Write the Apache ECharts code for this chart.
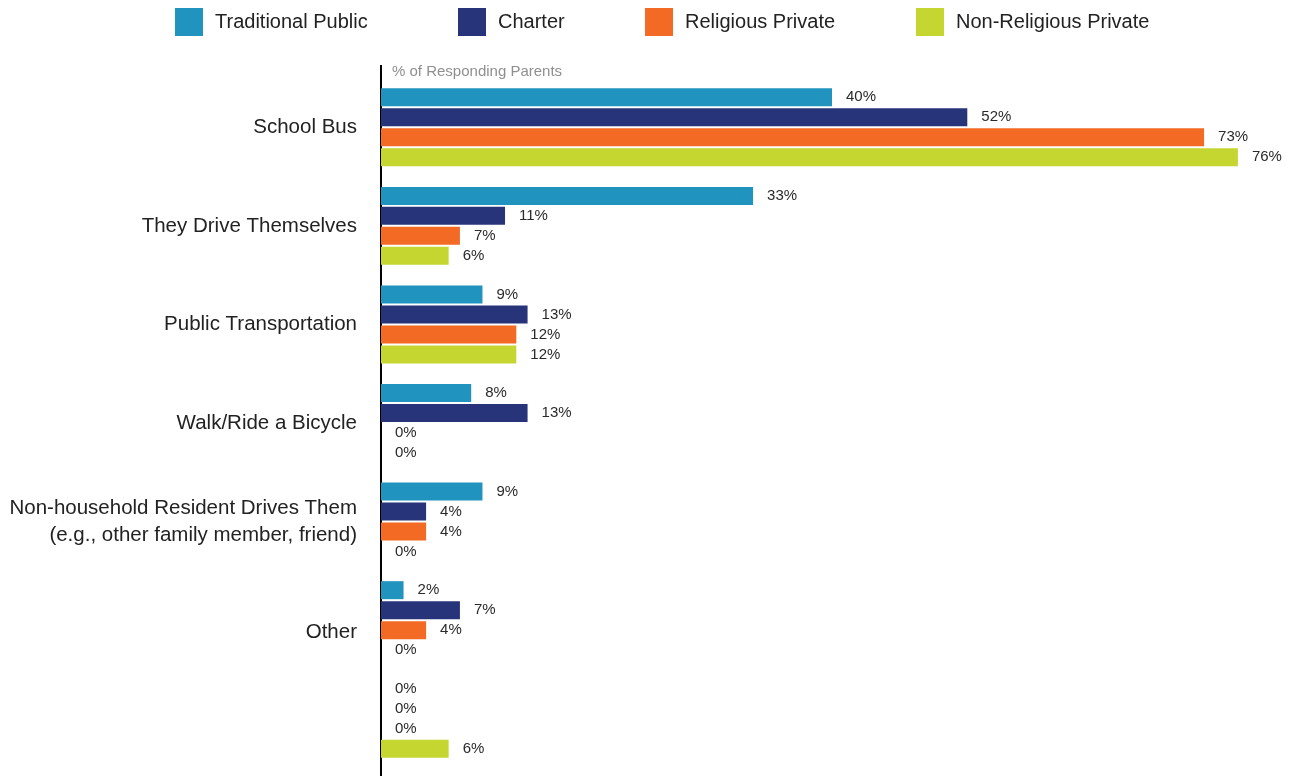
<!DOCTYPE html>
<html>
<head>
<meta charset="utf-8">
<title>How Students Get to School</title>
<script src="https://cdn.jsdelivr.net/npm/echarts@6/dist/echarts.min.js"></script>
<style>
  html, body { margin: 0; padding: 0; background: #ffffff; }
  #chart { width: 1296px; height: 776px; }
</style>
</head>
<body>
<div id="chart"></div>
<script>
// Categories (top to bottom); the last group carries no label
const categories = [
  'School Bus',
  'They Drive Themselves',
  'Public Transportation',
  'Walk/Ride a Bicycle',
  'Non-household Resident Drives Them\n(e.g., other family member, friend)',
  'Other',
  ''
];

// Share of responding parents, in percent
const traditionalPublic   = [40, 33, 9, 8, 9, 2, 0];
const charter             = [52, 11, 13, 13, 4, 7, 0];
const religiousPrivate    = [73, 7, 12, 0, 4, 4, 0];
const nonReligiousPrivate = [76, 6, 12, 0, 0, 0, 6];

const seriesNames = ['Traditional Public', 'Charter', 'Religious Private', 'Non-Religious Private'];
const seriesData = [traditionalPublic, charter, religiousPrivate, nonReligiousPrivate];
const colors = ['#2193BF', '#28347A', '#F26A24', '#C5D630'];

const FONT = '"Liberation Sans", Arial, sans-serif';

const legendLefts = [175, 458, 645, 916];

const chart = echarts.init(document.getElementById('chart'), null, { renderer: 'canvas' });

const option = {
  animation: false,
  backgroundColor: '#ffffff',
  textStyle: { fontFamily: FONT },
  title: {
    text: '% of Responding Parents',
    left: 392,
    top: 64,
    padding: 0,
    textStyle: { fontFamily: FONT, fontSize: 15, fontWeight: 'normal', color: '#8f8f8f' }
  },
  legend: seriesNames.map((name, i) => ({
    data: [name],
    left: legendLefts[i],
    top: 8,
    itemWidth: 28,
    itemHeight: 28,
    icon: 'rect',
    padding: 0,
    selectedMode: false,
    textStyle: { fontFamily: FONT, fontSize: 20, color: '#222222', padding: [0, 0, 0, 7] }
  })),
  grid: { left: 381, right: 13, top: 78, bottom: 8, containLabel: false },
  xAxis: {
    type: 'value',
    min: 0,
    max: 80,
    show: false
  },
  yAxis: {
    type: 'category',
    inverse: true,
    data: categories,
    axisLine: { show: false },
    axisTick: { show: false },
    splitLine: { show: false },
    axisLabel: {
      margin: 24,
      fontFamily: FONT,
      fontSize: 20.5,
      lineHeight: 27,
      color: '#222222',
      align: 'right',
      // the "Other" label sits a little lower than its group centre
      formatter: v => v === 'Other' ? '{low|' + v + '}' : v,
      rich: {
        low: {
          fontFamily: FONT,
          fontSize: 20.5,
          color: '#222222',
          padding: [24, 0, 0, 0]
        }
      }
    }
  },
  series: seriesNames.map((name, i) => ({
    name,
    type: 'bar',
    data: seriesData[i],
    barWidth: 18,
    barGap: '11%',
    itemStyle: { color: colors[i] },
    label: {
      show: true,
      position: 'right',
      distance: 14,
      formatter: '{c}%',
      fontFamily: FONT,
      fontSize: 15,
      color: '#2a2a2a'
    }
  })),
  graphic: [{
    type: 'line',
    shape: { x1: 381, y1: 65, x2: 381, y2: 776 },
    style: { stroke: '#000000', lineWidth: 2 },
    silent: true
  }]
};

chart.setOption(option);
</script>
</body>
</html>
